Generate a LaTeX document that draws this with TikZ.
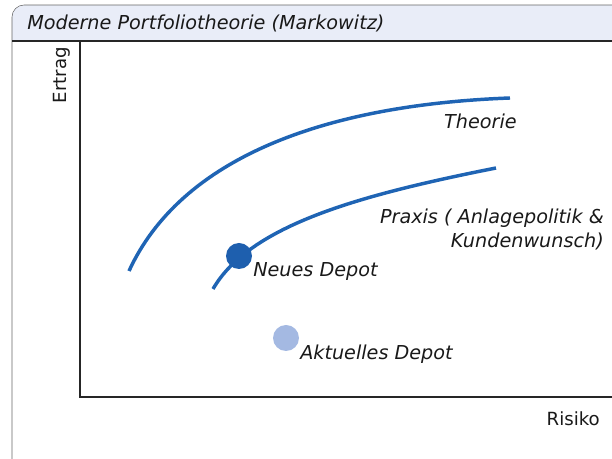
\documentclass[tikz,border=0pt]{standalone}
\usepackage{fontspec}
\setmainfont{DejaVu Sans}
\definecolor{kurve}{HTML}{1F64B4}
\definecolor{neu}{HTML}{1E5FAE}
\definecolor{alt}{HTML}{A4B9E2}
\definecolor{kopf}{HTML}{E9EDF8}
\tikzset{label/.style={font=\itshape\fontsize{14.4}{18}\selectfont,inner sep=0pt,text=black!90},
  achse/.style={font=\fontsize{13.6}{18}\selectfont,inner sep=0pt,text=black!90},
  punkt/.style={circle,minimum size=19.5pt,inner sep=0pt},
  kurve/.style={draw=kurve,line width=2.6pt}}

\begin{document}
\begin{tikzpicture}[x=0.75pt,y=-0.75pt]
\useasboundingbox (0,0) rectangle (612,459);
% frame with title band
\begin{scope}
\clip[rounded corners=9pt] (12,5) rectangle (640,480);
\fill[kopf] (12,5) rectangle (640,41);
\end{scope}
\draw[gray!80!black,rounded corners=9pt] (12,5) rectangle (640,480);
\draw[black!85,line width=0.9pt] (12,41) -- (640,41);
\node[label,anchor=west] (title) at (27,23) {Moderne Portfoliotheorie (Markowitz)};
% axes
\draw[black!85,line width=0.9pt] (80,41) -- (80,397) -- (640,397);
\node[achse,rotate=90] (ertrag) at (62,75) {Ertrag};
\node[achse,anchor=east] (risiko) at (600,419) {Risiko};
% curves
\draw[kurve] (129,271) .. controls (180,160) and (320,105) .. (510,98);
\draw[kurve] (213,289) .. controls (250,225) and (360,195) .. (496,168);
\node[label,anchor=east] (theorie) at (517,121) {Theorie};
\node[label,anchor=east,align=right] (praxis) at (604,229) {Praxis ( Anlagepolitik \&\\Kundenwunsch)};
% portfolios
\node[punkt,fill=neu] (neu) at (239,256) {};
\node[punkt,fill=alt] (alt) at (286,338) {};
\node[label,anchor=west] (neulabel) at (253,272) {Neues Depot};
\node[label,anchor=west] (altlabel) at (300,354) {Aktuelles Depot};
\end{tikzpicture}
\end{document}
